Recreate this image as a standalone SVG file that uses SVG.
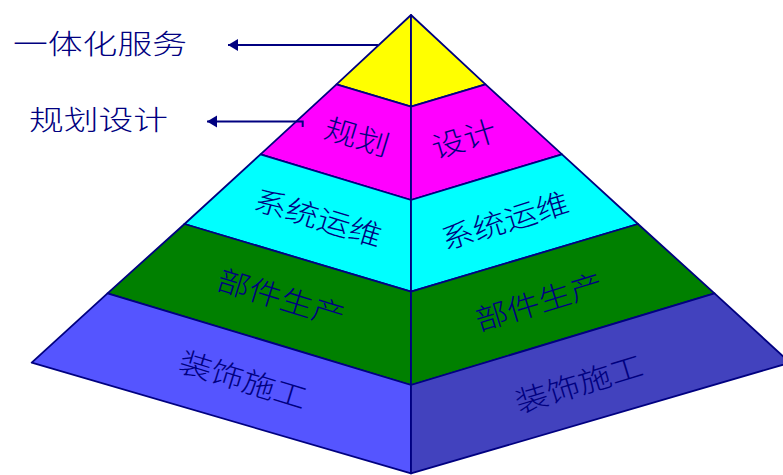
<svg xmlns="http://www.w3.org/2000/svg" width="783" height="475" viewBox="0 0 783 475">
<defs>
<style>
.face{stroke:#000080;stroke-width:1.8;stroke-linejoin:round}
.lbl{font-family:"Noto Sans CJK SC","Noto Sans CJK JP",sans-serif;font-size:29px;fill:#000080;text-anchor:middle;font-weight:300}
.side{font-family:"Noto Sans CJK SC","Noto Sans CJK JP",sans-serif;font-size:27px;fill:#000080;font-weight:300}
.conn{stroke:#000080;stroke-width:2;fill:none}
</style>
<marker id="ah" markerWidth="11" markerHeight="13" refX="10" refY="6.5" orient="auto" markerUnits="userSpaceOnUse">
<path d="M0,0.5 L10,6.5 L0,12.5 Z" fill="#000080"/>
</marker>
</defs>
<rect width="783" height="475" fill="#ffffff"/>
<g id="layer-top">
<polygon class="face" fill="#FFFF00" points="411,15 336.5,84.3 411,106.7"/>
<polygon class="face" fill="#FFFF00" points="411,15 411,106.7 485.5,84.3"/>
</g>
<g id="layer-plan">
<polygon class="face" fill="#FF00FF" points="336.5,84.3 260.5,154.3 411,200 411,106.7"/>
<polygon class="face" fill="#FF00FF" points="411,106.7 411,200 562,154.3 485.5,84.3"/>
<text class="lbl" transform="translate(354,147) rotate(17)" textLength="66" lengthAdjust="spacingAndGlyphs">规划</text>
<text class="lbl" transform="translate(467,149) rotate(-17)" textLength="66" lengthAdjust="spacingAndGlyphs">设计</text>
</g>
<g id="layer-ops">
<polygon class="face" fill="#00FFFF" points="260.5,154.3 184.5,224 411,291.7 411,200"/>
<polygon class="face" fill="#00FFFF" points="411,200 411,291.7 638,224 562,154.3"/>
<text class="lbl" transform="translate(315,228) rotate(17)" textLength="132" lengthAdjust="spacingAndGlyphs">系统运维</text>
<text class="lbl" transform="translate(508,231) rotate(-17)" textLength="132" lengthAdjust="spacingAndGlyphs">系统运维</text>
</g>
<g id="layer-parts">
<polygon class="face" fill="#008000" points="184.5,224 107.5,293.3 411,385 411,291.7"/>
<polygon class="face" fill="#008000" points="411,291.7 411,385 714.5,293.3 638,224"/>
<text class="lbl" transform="translate(278,308) rotate(17)" textLength="132" lengthAdjust="spacingAndGlyphs">部件生产</text>
<text class="lbl" transform="translate(542,312) rotate(-17)" textLength="132" lengthAdjust="spacingAndGlyphs">部件生产</text>
</g>
<g id="layer-build">
<polygon class="face" fill="#5555FF" points="107.5,293.3 31.7,362.7 411,473.4 411,385"/>
<polygon class="face" fill="#4242BE" points="411,385 411,473.4 790,362.7 714.5,293.3"/>
<text class="lbl" transform="translate(240,390) rotate(17)" textLength="132" lengthAdjust="spacingAndGlyphs">装饰施工</text>
<text class="lbl" transform="translate(582,394) rotate(-17)" textLength="132" lengthAdjust="spacingAndGlyphs">装饰施工</text>
</g>
<g id="label-service">
<text class="side" x="13" y="54" textLength="174" lengthAdjust="spacingAndGlyphs">一体化服务</text>
</g>
<g id="label-design">
<text class="side" x="29" y="130" textLength="139" lengthAdjust="spacingAndGlyphs">规划设计</text>
</g>
<g id="connectors">
<path class="conn" d="M378,45 L228,45" marker-end="url(#ah)"/>
<path class="conn" d="M302.7,127 L302.7,121.5 L207,121.5" marker-end="url(#ah)"/>
</g>
</svg>
